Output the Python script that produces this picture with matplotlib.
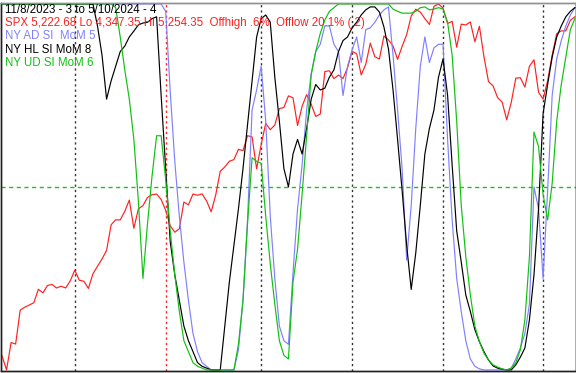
import matplotlib
matplotlib.use("Agg")
import matplotlib.pyplot as plt

# 11/8/2023 .. 5/10/2024, one point per trading day
spx = [4382.78, 4347.35, 4415.24, 4411.55, 4495.70, 4502.88, 4508.24, 4514.02,
       4547.38, 4538.19, 4556.62, 4559.34, 4550.43, 4554.89, 4550.58, 4567.80,
       4594.63, 4569.78, 4567.18, 4549.34, 4585.59, 4604.37, 4622.44, 4643.70,
       4707.09, 4719.55, 4719.19, 4740.56, 4768.37, 4698.35, 4746.75, 4754.63,
       4774.75, 4781.58, 4783.35, 4769.83,
       4742.83, 4704.81, 4688.68, 4697.24, 4763.54, 4756.50, 4783.45, 4780.24,
       4783.83, 4765.98, 4739.21, 4780.94, 4839.81, 4850.43, 4864.60, 4868.55,
       4894.16, 4890.97, 4927.93, 4924.97, 4845.65,
       4906.19, 4958.61, 4942.81, 4954.23, 4995.06, 4997.91, 5026.61, 5021.84,
       4953.17, 5000.62, 5029.73, 5005.57, 4975.51, 4981.80, 5087.03, 5088.80,
       5069.53, 5078.18, 5069.76, 5096.27,
       5137.08, 5130.95, 5078.65, 5104.76, 5157.36, 5123.69, 5117.94, 5175.27,
       5165.31, 5150.48, 5117.09, 5149.42, 5178.51, 5224.62, 5241.53, 5234.18,
       5218.19, 5203.58, 5248.49, 5254.35,
       5243.77, 5205.81, 5211.49, 5147.21, 5204.34, 5202.39, 5209.91, 5160.64,
       5199.06, 5123.41, 5061.82, 5051.41, 5022.21, 5011.12, 4967.23, 5010.60,
       5070.55, 5071.63, 5048.42, 5099.96, 5116.17, 5035.69,
       5018.39, 5064.20, 5127.79, 5180.74, 5187.70, 5187.67, 5214.08, 5222.68]

ad_mom = [100] * 36 + [
    98, 76, 57, 42, 29.5, 19, 10, 5, 2, 1,
    0, 0, 0, 0, 0, 0, 5.5, 19, 41, 71,
    76.5, 83, 68, 42, 25, 12, 8, 7, 26.5, 44,
    56, 71, 81, 87, 89, 94, 94, 89, 87, 75,
    83, 87.5, 91, 84, 93, 93.5, 95, 97, 98.4, 99.2,
    86, 71, 55, 30, 45, 66, 83, 91, 84, 88,
    89, 89, 63, 41, 25, 16, 8, 3, 1, 0.3,
    0, 0, 0, 0, 0, 0, 0.5, 3, 6, 10,
    18, 50, 44, 25, 49, 75, 85, 90, 94, 97, 99]

hl_mom = [100] * 21 + [
    94, 86, 74, 79, 83, 87, 88.5, 91, 92.6, 94.3,
    94.8, 95, 96, 96.5, 75, 55, 35, 26, 19, 12,
    8, 5, 2, 1, 0.5, 0, 0, 0, 12, 24,
    34, 44, 55, 67, 79, 91, 96, 97, 95, 80,
    68, 55, 50, 59, 63, 59, 66, 74, 78, 76.5,
    77, 80, 82, 87, 90, 91, 93.5, 95, 97, 98.4,
    99.2, 99.2, 97.8, 93.7, 87.7, 76.5, 63, 49, 34, 22,
    32, 45, 59, 66, 71, 80, 85, 75, 56, 38,
    29.5, 20.5, 16, 11, 7.7, 5, 2.7, 1.1, 0.5, 0.2,
    0, 0, 1.4, 3.5, 6, 13.7, 26, 44, 70, 78,
    85.5, 91, 94, 96.5, 98, 99]

ud_mom = [100] * 25 + [
    99, 91, 82, 74, 63, 46, 25, 40, 53, 64,
    64, 52, 38, 26, 16, 8, 5, 2, 1, 0.5,
    0, 0, 0, 0, 0, 0, 0, 7, 19, 40,
    58, 57, 56.5, 42, 29, 18, 8, 4, 3, 24,
    33, 48, 64, 80.6, 87, 92, 95.6, 98, 99, 100,
    100, 100, 100, 100, 100, 100, 100, 100, 100, 100,
    100, 98.6, 98, 97.5, 97.5, 97.5, 98, 99, 99.2, 98.4,
    98.6, 99, 98.6, 95, 86, 68, 45, 31, 20.5, 12,
    7.7, 4.6, 2.7, 1.4, 0.8, 0.3, 0, 0.5, 2, 5.5,
    13.7, 31, 65, 61, 48, 41, 51, 68, 78, 85.5, 93, 96]

month_starts = [16, 57, 77, 97, 119]
year_start = 36
spx_lo = 4347.35
spx_hi = 5254.35

title_lines = [
    ("11/8/2023 - 3 to 5/10/2024 - 4", "black"),
    ("SPX 5,222.68 Lo 4,347.35 Hi 5,254.35  Offhigh .6%  Offlow 20.1% (.2)", "#ff2020"),
    ("NY AD SI  MoM 5", "#8080ff"),
    ("NY HL SI MoM 8", "black"),
    ("NY UD SI MoM 6", "#10c010"),
]

W, H = 576, 373
fig = plt.figure(figsize=(W / 100, H / 100), dpi=100)
ax = fig.add_axes([1 / W, 2.5 / H, 574.5 / W, 367.5 / H])
x = list(range(len(spx)))

y0, y1 = -0.15, 100.27
ax.set_xlim(-0.22, 126.13)
ax.set_ylim(y0, y1)

for m in month_starts:
    ax.axvline(m, color="#333333", lw=1.0, ls=(0, (1.6, 2.2)))
ax.axvline(year_start, color="#ff2020", lw=1.0, ls=(0, (1.6, 2.2)))
ax.axhline(50, color="#20c020", lw=1.0, ls=(0, (3, 2.5)))

# SPX on its own scale, oscillators (0..100) mapped onto the same range
ax2 = ax.twinx()
span = spx_hi - spx_lo
ax2.set_ylim(spx_lo + y0 / 100 * span, spx_lo + y1 / 100 * span)


def to_spx(vals):
    return [spx_lo + v / 100 * span for v in vals]


ax2.plot(x, spx, color="#ff2020", lw=0.85)
ax2.plot(x, to_spx(ad_mom), color="#8080ff", lw=0.85)
ax2.plot(x, to_spx(hl_mom), color="black", lw=0.85)
ax2.plot(x, to_spx(ud_mom), color="#10c010", lw=0.85)

for a in (ax, ax2):
    a.set_xticks([])
    a.set_yticks([])
    for side in ("left", "bottom", "right"):
        a.spines[side].set_color("#202020")
        a.spines[side].set_linewidth(1.0)
    a.spines["top"].set_color("#909090")
    a.spines["top"].set_linewidth(1.0)

for k, (txt, col) in enumerate(title_lines):
    fig.text(5 / W, 1 - (10 + 13.2 * k) / H, txt, color=col,
             fontsize=8.3, family="Liberation Sans", va="center", ha="left")

fig.savefig("out.png", dpi=100, facecolor="white")
